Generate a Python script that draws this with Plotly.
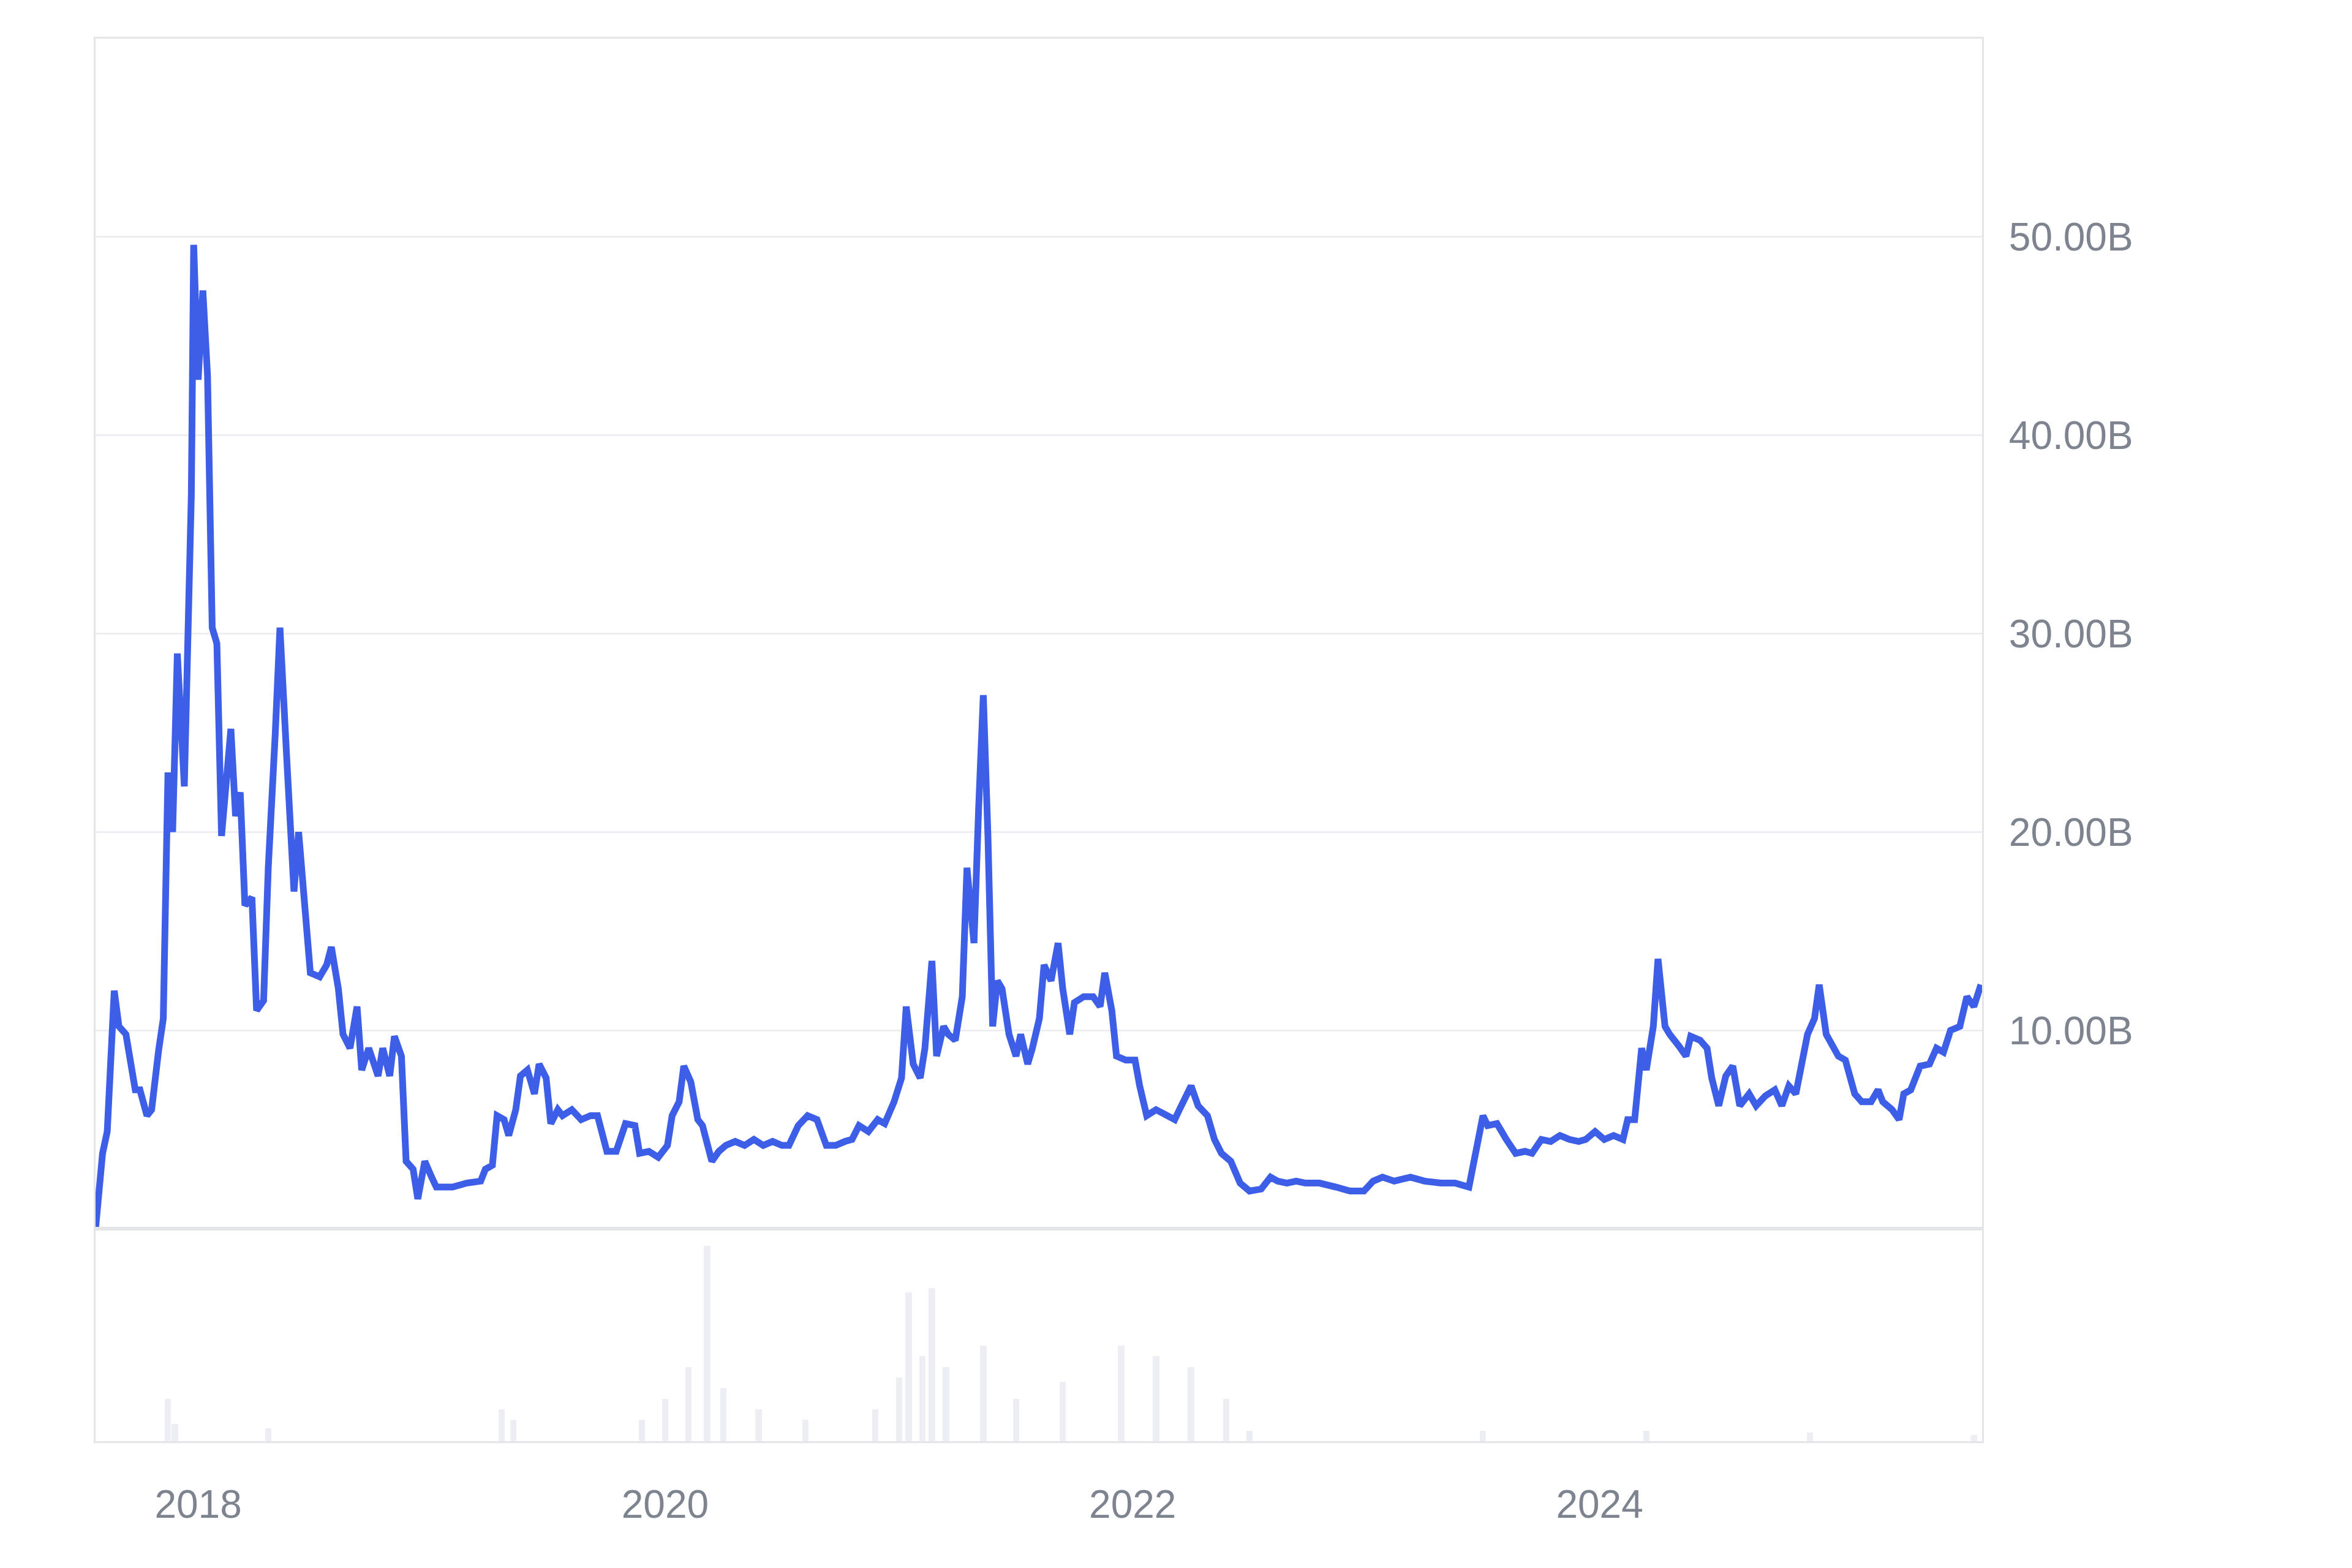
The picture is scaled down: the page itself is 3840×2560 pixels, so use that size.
import plotly.graph_objects as go
import pandas as pd

years = [2017.56,2017.59,2017.61,2017.64,2017.66,2017.69,2017.73,2017.75,2017.78,2017.80,2017.83,2017.85,2017.87,2017.89,2017.91,2017.94,2017.97,2017.98,2018.00,2018.02,2018.04,2018.06,2018.08,2018.10,2018.14,2018.16,2018.18,2018.20,2018.23,2018.25,2018.28,2018.30,2018.33,2018.35,2018.38,2018.41,2018.43,2018.46,2018.48,2018.52,2018.55,2018.57,2018.60,2018.62,2018.65,2018.68,2018.70,2018.73,2018.77,2018.79,2018.82,2018.84,2018.87,2018.89,2018.92,2018.94,2018.97,2019.00,2019.02,2019.09,2019.15,2019.21,2019.23,2019.26,2019.28,2019.31,2019.33,2019.36,2019.38,2019.41,2019.44,2019.46,2019.49,2019.51,2019.54,2019.56,2019.60,2019.64,2019.68,2019.71,2019.75,2019.79,2019.83,2019.87,2019.89,2019.93,2019.97,2020.01,2020.03,2020.06,2020.08,2020.11,2020.14,2020.16,2020.20,2020.23,2020.26,2020.30,2020.34,2020.38,2020.42,2020.46,2020.50,2020.53,2020.57,2020.61,2020.65,2020.69,2020.73,2020.77,2020.80,2020.83,2020.87,2020.91,2020.94,2020.98,2021.01,2021.03,2021.06,2021.09,2021.11,2021.14,2021.16,2021.19,2021.21,2021.24,2021.27,2021.29,2021.32,2021.34,2021.36,2021.38,2021.40,2021.42,2021.44,2021.47,2021.50,2021.52,2021.55,2021.57,2021.60,2021.62,2021.65,2021.68,2021.70,2021.73,2021.75,2021.79,2021.83,2021.86,2021.88,2021.91,2021.93,2021.97,2022.01,2022.03,2022.06,2022.10,2022.14,2022.18,2022.20,2022.23,2022.25,2022.28,2022.32,2022.35,2022.38,2022.42,2022.46,2022.50,2022.55,2022.59,2022.62,2022.66,2022.70,2022.74,2022.80,2022.87,2022.93,2022.99,2023.03,2023.07,2023.12,2023.19,2023.25,2023.32,2023.38,2023.44,2023.47,2023.50,2023.52,2023.56,2023.60,2023.64,2023.68,2023.71,2023.75,2023.79,2023.83,2023.87,2023.91,2023.94,2023.98,2024.02,2024.06,2024.10,2024.12,2024.15,2024.18,2024.20,2024.23,2024.25,2024.28,2024.30,2024.34,2024.37,2024.39,2024.43,2024.46,2024.48,2024.51,2024.54,2024.57,2024.60,2024.64,2024.67,2024.71,2024.75,2024.78,2024.81,2024.84,2024.87,2024.89,2024.92,2024.94,2024.97,2025.00,2025.02,2025.05,2025.09,2025.12,2025.16,2025.19,2025.21,2025.25,2025.28,2025.30,2025.33,2025.37,2025.41,2025.44,2025.47,2025.50,2025.54,2025.57,2025.60,2025.63]

values_b = [0,3.8,4.9,12,10.2,9.8,7,7,5.7,6,9,10.6,23,20,29,22.3,37,49.6,42.8,47.3,43,30.3,29.5,19.8,25.2,20.8,22,16.3,16.7,11,11.5,18.2,25,30.3,23.5,17,20,15.9,12.9,12.7,13.3,14.2,12.1,9.8,9.1,11.2,8,9.1,7.7,9.1,7.7,9.7,8.7,3.4,3,1.5,3.4,2.6,2.1,2.1,2.3,2.4,3,3.2,5.7,5.5,4.7,6,7.7,8,6.8,8.3,7.6,5.3,6,5.7,6,5.5,5.7,5.7,3.9,3.9,5.3,5.2,3.8,3.9,3.6,4.2,5.7,6.4,8.2,7.4,5.5,5.2,3.4,3.9,4.2,4.4,4.2,4.5,4.2,4.4,4.2,4.2,5.2,5.7,5.5,4.2,4.2,4.4,4.5,5.2,4.9,5.5,5.3,6.4,7.6,11.2,8.3,7.6,9.1,13.5,8.7,10.2,9.8,9.5,11.7,18.2,14.4,21.2,26.9,19.7,10.2,12.5,12.1,9.8,8.7,9.8,8.3,9.1,10.6,13.3,12.5,14.4,12.1,9.8,11.4,11.7,11.7,11.2,12.9,11,8.7,8.5,8.5,7.2,5.7,6,5.7,5.5,6,6.8,7.2,6.2,5.7,4.5,3.8,3.4,2.3,1.9,2,2.6,2.4,2.3,2.4,2.3,2.3,2.1,1.9,1.9,2.4,2.6,2.4,2.6,2.4,2.3,2.3,2.1,3.8,5.7,5.2,5.3,4.5,3.8,3.9,3.8,4.5,4.4,4.7,4.5,4.4,4.5,4.9,4.5,4.7,4.5,5.5,5.5,9.1,8,10.2,13.6,10.2,9.8,9.2,8.7,9.7,9.5,9.1,7.6,6.2,7.7,8.2,6.2,6.8,6.2,6.7,7,6.2,7.2,6.8,8.7,9.8,10.6,12.3,9.8,9.1,8.7,8.5,6.8,6.4,6.4,7,6.4,6,5.5,6.8,7,8.2,8.3,9.1,8.9,10,10.2,11.7,11.2,12.3]

vol_years = [2017.87,2017.90,2018.30,2019.30,2019.35,2019.90,2020.00,2020.10,2020.18,2020.25,2020.40,2020.60,2020.90,2021.00,2021.04,2021.10,2021.14,2021.20,2021.36,2021.50,2021.70,2021.95,2022.10,2022.25,2022.40,2022.50,2023.50,2024.20,2024.90,2025.60]
vol_rel = [0.2,0.08,0.06,0.15,0.1,0.1,0.2,0.35,0.92,0.25,0.15,0.1,0.15,0.3,0.7,0.4,0.72,0.35,0.45,0.2,0.28,0.45,0.4,0.35,0.2,0.05,0.05,0.05,0.04,0.03]

tick_years = ["2018-01-01", "2020-01-01", "2022-01-01", "2024-01-01"]
tick_text = ["2018", "2020", "2022", "2024"]
y_ticks = [10e9, 20e9, 30e9, 40e9, 50e9]
y_text = ["10.00B", "20.00B", "30.00B", "40.00B", "50.00B"]


def to_dt(y):
    yr = int(y)
    start = pd.Timestamp(year=yr, month=1, day=1)
    return start + pd.Timedelta(days=(y - yr) * 365.25)


dates = [to_dt(y) for y in years]
vdates = [to_dt(y) for y in vol_years]

fig = go.Figure()
fig.add_trace(go.Bar(x=vdates, y=vol_rel, yaxis="y2", marker_color="#eceef3",
                     marker_line_width=0, width=10 * 86400000))
fig.add_trace(go.Scatter(x=dates, y=[v * 1e9 for v in values_b], mode="lines",
                         line=dict(color="#3d5fe8", width=11), yaxis="y"))

fig.update_layout(
    width=3840, height=2560, showlegend=False,
    paper_bgcolor="white", plot_bgcolor="white",
    margin=dict(l=148, r=612, t=55, b=215),
    font=dict(family="Liberation Sans, Arial", size=64, color="#7d8490"),
    xaxis=dict(anchor="y2", range=[to_dt(2017.56), to_dt(2025.635)], tickvals=tick_years, ticktext=tick_text,
               showgrid=False, showline=True, linecolor="#e3e5e8", linewidth=3, mirror="all",
               ticks="", ticklabelstandoff=45),
    yaxis=dict(domain=[0.1515, 1], range=[0, 60e9], side="right", tickvals=y_ticks, ticktext=y_text,
               showgrid=True, gridcolor="#eceef1", gridwidth=3, zeroline=True, zerolinecolor="#e3e5e8",
               zerolinewidth=3, showline=True, linecolor="#e3e5e8", linewidth=3, mirror=True,
               ticks="", ticklabelstandoff=28),
    yaxis2=dict(domain=[0, 0.1515], range=[0, 1], showticklabels=False, showgrid=False,
                zeroline=False, showline=True, linecolor="#e3e5e8", linewidth=3, mirror=True),
    bargap=0,
)

fig.write_html("out.html")
